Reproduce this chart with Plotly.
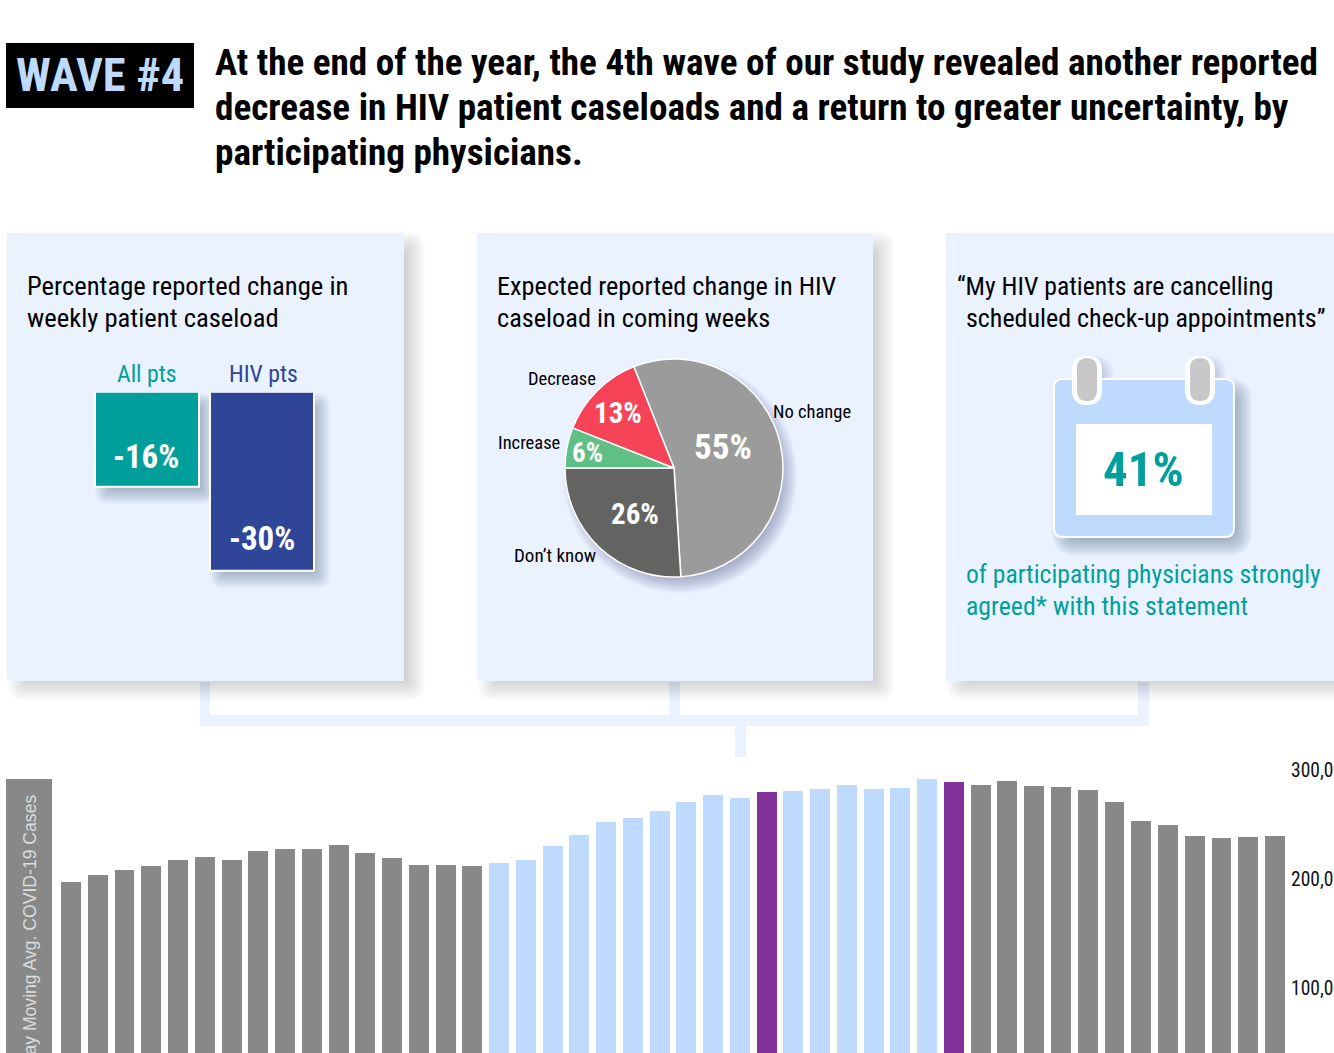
import plotly.graph_objects as go

W, H = 1334, 1053
NARROW = "Roboto Condensed"

# ---- data -------------------------------------------------------------
weekly_cases = [197500, 203500, 208500, 212000, 217500, 220000, 217500, 225500, 227500, 227500,
                231000, 224000, 219500, 213000, 213000, 212000,
                214500, 217500, 230500, 240500, 252500, 256000, 262500, 270500, 277000, 274500,
                280000,
                280500, 282500, 286000, 282500, 283500, 291500,
                289000,
                286000, 290000, 285500, 284500, 281500, 270500, 253000, 249500, 239500, 237500, 238500, 239500]
wave_groups = ["gray"] * 16 + ["blue"] * 10 + ["purple"] + ["blue"] * 6 + ["purple"] + ["gray"] * 12
tick_values = [100000, 200000, 300000]
tick_labels = ["100,000", "200,000", "300,000"]

change_labels = ["All pts", "HIV pts"]
change_values = [-16, -30]

pie_labels = ["No change", "Don’t know", "Increase", "Decrease"]
pie_values = [55, 26, 6, 13]

calendar_value = 41

title_lines = ["At the end of the year, the 4th wave of our study revealed another reported",
               "decrease in HIV patient caseloads and a return to greater uncertainty, by",
               "participating physicians."]

# ---- colours ----------------------------------------------------------
CARD = "#EAF2FF"
LIGHT = "#BFDAFF"
TEAL = "#009F9B"
NAVY = "#2E4598"
PURPLE = "#84329B"
GRAY = "#888888"
group_color = {"gray": GRAY, "blue": LIGHT, "purple": PURPLE}


def px(x):
    return x / W


def py(y):
    return 1 - y / H


def rr_path(x0, y0, x1, y1, r):
    r = max(0, min(r, (x1 - x0) / 2, (y1 - y0) / 2))
    X0, X1, Y0, Y1 = px(x0), px(x1), py(y0), py(y1)
    rx, ry = r / W, r / H
    return (f"M{X0 + rx},{Y0} L{X1 - rx},{Y0} Q{X1},{Y0} {X1},{Y0 - ry} "
            f"L{X1},{Y1 + ry} Q{X1},{Y1} {X1 - rx},{Y1} L{X0 + rx},{Y1} "
            f"Q{X0},{Y1} {X0},{Y1 + ry} L{X0},{Y0 - ry} Q{X0},{Y0} {X0 + rx},{Y0} Z")


shapes = []


def rrect(x0, y0, x1, y1, color, r=0):
    shapes.append(dict(type="path", path=rr_path(x0, y0, x1, y1, r), xref="paper", yref="paper",
                       fillcolor=color, line=dict(width=0), layer="below"))


def rect(x0, y0, x1, y1, color):
    shapes.append(dict(type="rect", x0=px(x0), x1=px(x1), y0=py(y1), y1=py(y0), xref="paper", yref="paper",
                       fillcolor=color, line=dict(width=0), layer="below"))


def shadow(x0, y0, x1, y1, dx, dy, blur, rgb, total, r=0, n=12):
    a = total / n
    for i in range(n):
        d = blur * (1 - 2 * i / (n - 1))
        rrect(x0 + dx - d, y0 + dy - d, x1 + dx + d, y1 + dy + d, f"rgba({rgb},{a:.4f})", r + max(d, 0) + blur * 0.5)


# connectors (under the card shadows)
for a in [(200, 682, 210, 726), (669, 682, 680, 726), (1138, 682, 1149, 726), (200, 715, 1149, 726), (735, 726, 746, 757)]:
    rect(*a, CARD)

# cards
cards = [(7, 233, 404, 681), (477, 233, 873, 681), (946, 233, 1340, 681)]
for c in cards:
    shadow(*c, 11, 9, 10, "0,0,0", 0.17)
for c in cards:
    rect(*c, CARD)

# wave box and axis-title box
rect(6, 43, 194, 108, "#000000")
rect(6, 779, 52, 1060, GRAY)

# shadows of the two change bars
shadow(96, 393, 198, 486, 8, 9, 9, "50,70,100", 0.45)
shadow(211, 393, 313, 570, 8, 9, 9, "50,70,100", 0.45)

# pie shadow
PCX, PCY, PR = 674, 468, 109
n = 12
for i in range(n):
    d = 8 * (1 - 2 * i / (n - 1))
    shapes.append(dict(type="circle", xref="paper", yref="paper",
                       x0=px(PCX + 6 - PR - d), x1=px(PCX + 6 + PR + d),
                       y0=py(PCY + 8 + PR + d), y1=py(PCY + 8 - PR - d),
                       fillcolor="rgba(50,70,100,0.036)", line=dict(width=0), layer="below"))

# calendar
shadow(1053, 378, 1235, 538, 8, 9, 9, "50,70,100", 0.45, r=10)
shadow(1072, 356, 1102, 405, 7, 4, 5, "50,70,100", 0.2, r=14)
shadow(1185, 356, 1215, 405, 7, 4, 5, "50,70,100", 0.2, r=14)
rrect(1053, 378, 1235, 538, "#FFFFFF", 10)
rrect(1055, 380, 1233, 536, LIGHT, 8)
rect(1076, 424, 1212, 515, "#FFFFFF")
for x0 in (1072, 1185):
    rrect(x0, 356, x0 + 30, 405, "#FFFFFF", 15)
    rrect(x0 + 5, 358, x0 + 25, 401, "#C8C8C8", 10)

fig = go.Figure()

# ---- weekly bars ------------------------------------------------------
fig.add_trace(go.Bar(x=list(range(len(weekly_cases))), y=weekly_cases,
                     marker=dict(color=[group_color[g] for g in wave_groups], line=dict(width=0)),
                     width=0.745, showlegend=False, hoverinfo="skip", xaxis="x", yaxis="y"))

# ---- change bars ------------------------------------------------------
fig.add_trace(go.Bar(x=change_labels, y=change_values,
                     marker=dict(color=[TEAL, NAVY], line=dict(color="#FFFFFF", width=2)),
                     width=0.904, showlegend=False, hoverinfo="skip", xaxis="x2", yaxis="y2"))

# ---- pie --------------------------------------------------------------
fig.add_trace(go.Pie(labels=pie_labels, values=pie_values, sort=False, direction="clockwise", rotation=338.4,
                     marker=dict(colors=["#9B9B9B", "#636362", "#5FBF85", "#F74358"],
                                 line=dict(color="#FFFFFF", width=1.5)),
                     textinfo="none", hoverinfo="skip", showlegend=False,
                     domain=dict(x=[px(PCX - PR), px(PCX + PR)], y=[py(PCY + PR), py(PCY - PR)])))

# ---- text -------------------------------------------------------------
ann = []


def text(x, y, s, size, color="#000000", anchor="left", bold=False, family=NARROW, angle=0, yanchor="middle"):
    shift = 0
    if angle == 0 and anchor == "left":
        shift = -2
    elif angle == 0 and anchor == "right":
        shift = 2
    ann.append(dict(x=px(x), y=py(y), xref="paper", yref="paper", text=f"<b>{s}</b>" if bold else s,
                    showarrow=False, xanchor=anchor, yanchor=yanchor, textangle=angle, xshift=shift,
                    font=dict(family=family, size=size, color=color)))


text(100, 75, "WAVE #4", 46.5, LIGHT, "center", True)
for line, y in zip(title_lines, (62.5, 107.5, 152.5)):
    text(215, y, line, 37.15, bold=True)

text(27, 285.5, "Percentage reported change in", 26.6)
text(27, 317.5, "weekly patient caseload", 26.6)
text(497, 285.5, "Expected reported change in HIV", 26.3)
text(497, 317.5, "caseload in coming weeks", 26.3)
text(957, 285.5, "“My HIV patients are cancelling", 25.7)
text(966, 317.5, "scheduled check-up appointments”", 26.0)

text(146, 374, change_labels[0], 23.7, TEAL, "center")
text(263, 374, change_labels[1], 23.7, NAVY, "center")
text(146, 457, f"{change_values[0]}%", 33, "#FFFFFF", "center", True)
text(262, 538, f"{change_values[1]}%", 33, "#FFFFFF", "center", True)

text(596, 379, pie_labels[3], 18.5, anchor="right")
text(773, 412, pie_labels[0], 18.5)
text(560, 443, pie_labels[2], 18.5, anchor="right")
text(596, 555.5, pie_labels[1], 19, anchor="right")
text(723, 447.5, f"{pie_values[0]}%", 35, "#FFFFFF", "center", True)
text(635, 514, f"{pie_values[1]}%", 29, "#FFFFFF", "center", True)
text(618, 413, f"{pie_values[3]}%", 29, "#FFFFFF", "center", True)
text(587, 453, f"{pie_values[2]}%", 27, "#FFFFFF", "center", True)

text(1143, 469, f"{calendar_value}%", 49, TEAL, "center", True)
text(966, 574, "of participating physicians strongly", 25.6, TEAL)
text(966, 605.5, "agreed* with this statement", 25.8, TEAL)

text(30, 793.5, "7-day Moving Avg. COVID-19 Cases", 17.6, "#DDDDDD", "center", family="Liberation Sans", angle=-90, yanchor="top")

# ---- axes -------------------------------------------------------------
PITCH = (1275 - 71) / 45
layout_axes = dict(
    xaxis=dict(domain=[0, 1], range=[-71 / PITCH, (W - 71) / PITCH], visible=False, fixedrange=True),
    yaxis=dict(domain=[0, 1], range=[(1097 - H) / 109 * 1e5, 1097 / 109 * 1e5], anchor="free",
               position=px(1290), side="right", showgrid=False, zeroline=False, showline=False,
               tickvals=tick_values, ticktext=tick_labels, ticklen=0,
               tickfont=dict(family=NARROW, size=19.5, color="#111111"), fixedrange=True),
    xaxis2=dict(domain=[px(90), px(320)], range=[-0.496, 1.504], type="category", visible=False, anchor="y2", fixedrange=True),
    yaxis2=dict(domain=[py(600), py(391.7)], range=[-208.3 / 5.96, 0], visible=False, anchor="x2", fixedrange=True),
)

fig.update_layout(width=W, height=H, margin=dict(l=0, r=0, t=0, b=0, autoexpand=False),
                  paper_bgcolor="#FFFFFF", plot_bgcolor="rgba(0,0,0,0)",
                  shapes=shapes, annotations=ann, bargap=0, **layout_axes)

fig.write_html("out.html", config={"displayModeBar": False},
               post_script="document.body.style.margin='0';document.documentElement.style.overflow='hidden';")
